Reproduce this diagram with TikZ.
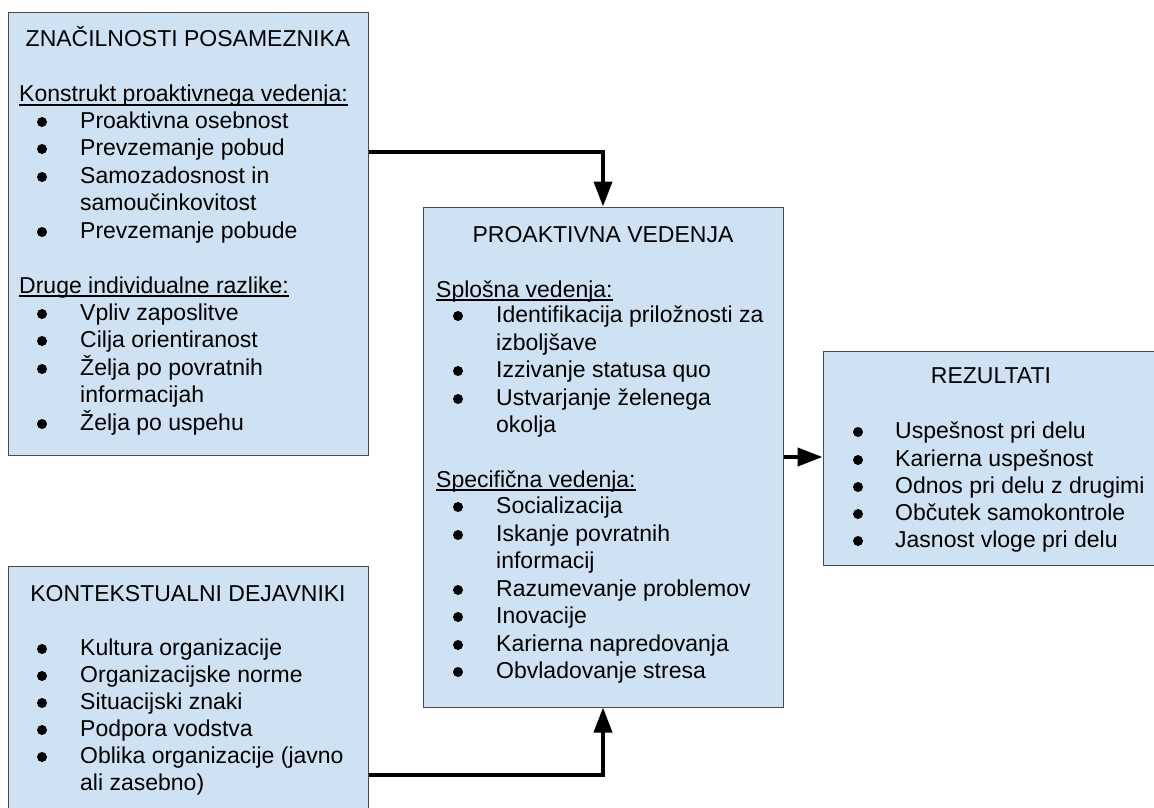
\documentclass[tikz,border=0pt]{standalone}
\usepackage{fontspec}
\setmainfont{Liberation Sans}
\usetikzlibrary{arrows.meta}
\definecolor{boxfill}{HTML}{CFE2F3}
\definecolor{boxline}{HTML}{4A4A4A}
\newcounter{lnc}
% plain text line
\newcommand\Tl[3]{\stepcounter{lnc}\node[txt] (t\thelnc) at (#1,#2) {#3};}
% centred title
\newcommand\Ti[3]{\stepcounter{lnc}\node[ttl] (t\thelnc) at (#1,#2) {#3};}
% bulleted line: bullet x, text x, baseline y, text
\newcommand\Bi[4]{\stepcounter{lnc}\fill (#1,#3-6) circle[radius=5pt];\node[txt] (t\thelnc) at (#2,#3) {#4};}
% underlined heading
\newcommand\Hd[3]{\stepcounter{lnc}\node[txt] (t\thelnc) at (#1,#2) {#3};
  \draw[line width=1.4pt] ([yshift=-3pt]t\thelnc.base west) -- ([yshift=-3pt]t\thelnc.base east);}
\begin{document}
\begin{tikzpicture}[x=1pt,y=-1pt,
  box/.style={rectangle,draw=boxline,fill=boxfill,line width=1pt,inner sep=0pt},
  txt/.style={anchor=base west,inner sep=0pt,font=\fontsize{23}{27.4}\selectfont},
  ttl/.style={anchor=base,inner sep=0pt,font=\fontsize{23}{27.4}\selectfont},
  arr/.style={line width=4pt,-{Triangle[length=25pt,width=18pt]}}]
\useasboundingbox (0,0) rectangle (1154,808);
\fill[white] (0,0) rectangle (1154,808);
% boxes
\node[box,minimum width=360pt,minimum height=442pt] (b1) at (188,234) {};
\node[box,minimum width=360pt,minimum height=500pt] (b2) at (603,457) {};
\node[box,minimum width=342pt,minimum height=214pt] (b3) at (994,458) {};
\node[box,minimum width=360pt,minimum height=254pt] (b4) at (188,693) {};
% box 1
\Ti{188}{47}{ZNAČILNOSTI POSAMEZNIKA}
\Hd{19}{102}{Konstrukt proaktivnega vedenja:}
\Bi{42}{80}{128}{Proaktivna osebnost}
\Bi{42}{80}{155}{Prevzemanje pobud}
\Bi{42}{80}{183}{Samozadosnost in}
\Tl{80}{210}{samoučinkovitost}
\Bi{42}{80}{238}{Prevzemanje pobude}
\Hd{19}{293}{Druge individualne razlike:}
\Bi{42}{80}{320}{Vpliv zaposlitve}
\Bi{42}{80}{347}{Cilja orientiranost}
\Bi{42}{80}{375}{Želja po povratnih}
\Tl{80}{402}{informacijah}
\Bi{42}{80}{430}{Želja po uspehu}
% box 2
\Ti{603}{242}{PROAKTIVNA VEDENJA}
\Hd{436}{297}{Splošna vedenja:}
\Bi{458}{496}{322}{Identifikacija priložnosti za}
\Tl{496}{350}{izboljšave}
\Bi{458}{496}{377}{Izzivanje statusa quo}
\Bi{458}{496}{405}{Ustvarjanje želenega}
\Tl{496}{432}{okolja}
\Hd{436}{487}{Specifična vedenja:}
\Bi{458}{496}{513}{Socializacija}
\Bi{458}{496}{541}{Iskanje povratnih}
\Tl{496}{568}{informacij}
\Bi{458}{496}{596}{Razumevanje problemov}
\Bi{458}{496}{623}{Inovacije}
\Bi{458}{496}{651}{Karierna napredovanja}
\Bi{458}{496}{678}{Obvladovanje stresa}
% box 3
\Ti{991}{383}{REZULTATI}
\Bi{858}{895}{438}{Uspešnost pri delu}
\Bi{858}{895}{466}{Karierna uspešnost}
\Bi{858}{895}{493}{Odnos pri delu z drugimi}
\Bi{858}{895}{520}{Občutek samokontrole}
\Bi{858}{895}{547}{Jasnost vloge pri delu}
% box 4
\Ti{188}{601}{KONTEKSTUALNI DEJAVNIKI}
\Bi{42}{80}{655}{Kultura organizacije}
\Bi{42}{80}{682}{Organizacijske norme}
\Bi{42}{80}{709}{Situacijski znaki}
\Bi{42}{80}{736}{Podpora vodstva}
\Bi{42}{80}{763}{Oblika organizacije (javno}
\Tl{80}{790}{ali zasebno)}
% connectors
\coordinate (k1) at (0,152);
\coordinate (k2) at (0,775);
\draw[arr] (b1.east |- k1) -| (b2.north);
\draw[arr] (b4.east |- k2) -| (b2.south);
\draw[arr] (b2.east) -- (b2.east -| b3.west);
\end{tikzpicture}
\end{document}
